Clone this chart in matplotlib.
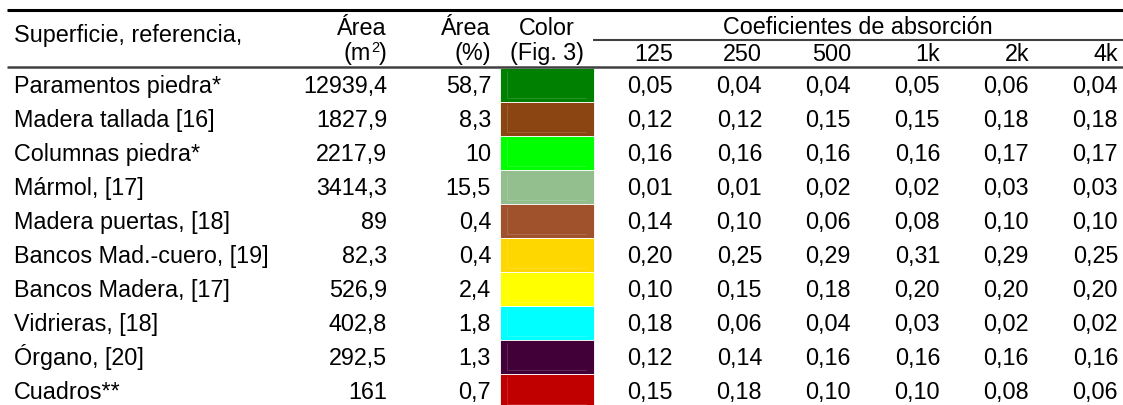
import matplotlib
matplotlib.use("Agg")
import matplotlib.pyplot as plt
from matplotlib.patches import Rectangle

plt.rcParams['font.family'] = ['Liberation Sans', 'DejaVu Sans']

superficies = ["Paramentos piedra*", "Madera tallada [16]", "Columnas piedra*",
               "Mármol, [17]", "Madera puertas, [18]", "Bancos Mad.-cuero, [19]",
               "Bancos Madera, [17]", "Vidrieras, [18]", "Órgano, [20]", "Cuadros**"]
area_m2 = ["12939,4", "1827,9", "2217,9", "3414,3", "89", "82,3", "526,9",
           "402,8", "292,5", "161"]
area_pct = ["58,7", "8,3", "10", "15,5", "0,4", "0,4", "2,4", "1,8", "1,3", "0,7"]
colores = ["#008000", "#8B4513", "#00FF00", "#93BF8F", "#A0522D", "#FFD700",
           "#FFFF00", "#00FFFF", "#420038", "#C00000"]
bandas = ["125", "250", "500", "1k", "2k", "4k"]
coef = [
    ["0,05", "0,04", "0,04", "0,05", "0,06", "0,04"],
    ["0,12", "0,12", "0,15", "0,15", "0,18", "0,18"],
    ["0,16", "0,16", "0,16", "0,16", "0,17", "0,17"],
    ["0,01", "0,01", "0,02", "0,02", "0,03", "0,03"],
    ["0,14", "0,10", "0,06", "0,08", "0,10", "0,10"],
    ["0,20", "0,25", "0,29", "0,31", "0,29", "0,25"],
    ["0,10", "0,15", "0,18", "0,20", "0,20", "0,20"],
    ["0,18", "0,06", "0,04", "0,03", "0,02", "0,02"],
    ["0,12", "0,14", "0,16", "0,16", "0,16", "0,16"],
    ["0,15", "0,18", "0,10", "0,10", "0,08", "0,06"],
]

W, H = 1123, 405
fig = plt.figure(figsize=(W / 100, H / 100), dpi=100)
ax = fig.add_axes([0, 0, 1, 1])
ax.set_xlim(0, W)
ax.set_ylim(H, 0)
ax.axis("off")

fs = 16.8
row_top = 68
row_h = 34
x_left = 14
x_m2 = 387
x_pct = 491
col_x0, col_x1 = 500, 594
x_coef0 = 673
dx_coef = 89

renderer = fig.canvas.get_renderer()


def width_px(t):
    return t.get_window_extent(renderer=renderer).width

# rules
ax.plot([7, W], [10, 10], color="black", lw=2.2, solid_capstyle="butt")
ax.plot([7, W], [67, 67], color="#404040", lw=1.8, solid_capstyle="butt")
ax.plot([593, W], [39.5, 39.5], color="#404040", lw=1.5, solid_capstyle="butt")

# headers
ax.text(x_left, 42, "Superficie, referencia,", fontsize=fs, ha="left", va="baseline")
ax.text(x_m2, 35, "Área", fontsize=fs, ha="right", va="baseline")
# "(m²)" composed of pieces so the superscript is a real raised digit
t_close = ax.text(x_m2, 60, ")", fontsize=fs, ha="right", va="baseline")
x_sup = x_m2 - width_px(t_close)
t_sup = ax.text(x_sup, 52, "2", fontsize=fs * 0.62, ha="right", va="baseline")
ax.text(x_sup - width_px(t_sup), 60, "(m", fontsize=fs, ha="right", va="baseline")
ax.text(x_pct, 35, "Área", fontsize=fs, ha="right", va="baseline")
ax.text(x_pct, 60, "(%)", fontsize=fs, ha="right", va="baseline")
ax.text((col_x0 + col_x1) / 2, 35, "Color", fontsize=fs, ha="center", va="baseline")
ax.text((col_x0 + col_x1) / 2, 60, "(Fig. 3)", fontsize=fs, ha="center", va="baseline")
ax.text((593 + W) / 2, 34, "Coeficientes de absorción", fontsize=fs, ha="center", va="baseline")
for j, b in enumerate(bandas):
    ax.text(x_coef0 + j * dx_coef, 61, b, fontsize=fs, ha="right", va="baseline")

# rows
for i, name in enumerate(superficies):
    top = row_top + i * row_h
    base = top + 25
    ax.text(x_left, base, name, fontsize=fs, ha="left", va="baseline")
    ax.text(x_m2, base, area_m2[i], fontsize=fs, ha="right", va="baseline")
    ax.text(x_pct, base, area_pct[i], fontsize=fs, ha="right", va="baseline")
    ax.add_patch(Rectangle((col_x0, top), col_x1 - col_x0, row_h,
                           facecolor=colores[i], edgecolor="white", lw=0.6))
    ax.plot([col_x0 + 7, col_x0 + 7, col_x1 - 8], [top + 3, top + row_h - 4, top + row_h - 4],
            color="white", lw=0.5, alpha=0.2)
    for j in range(len(bandas)):
        ax.text(x_coef0 + j * dx_coef, base, coef[i][j], fontsize=fs,
                ha="right", va="baseline")

fig.savefig("out.png", dpi=100)
